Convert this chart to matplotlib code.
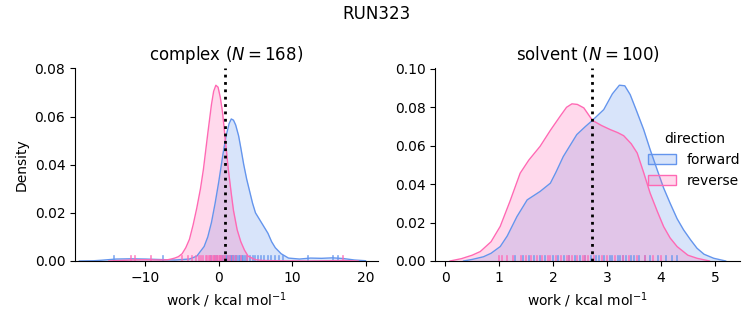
import matplotlib
matplotlib.use("Agg")
import matplotlib.pyplot as plt
from matplotlib.patches import Patch

# ---------------- data ----------------
suptitle = "RUN323"
titles = ["complex ($N = 168$)", "solvent ($N = 100$)"]
xlabel = "work / kcal mol$^{-1}$"
hue_names = ["forward", "reverse"]
colors = ["#6495ED", "#FF69B4"]

# complex panel KDE curves (x, density)
cx_fwd = [-19, -17, -16, -14, -12, -10, -8, -6, -4, -3, -2, -1.5, -1, -0.5, 0, 0.6, 1.0, 1.4, 1.7,
          2.0, 2.3, 2.7, 3.0, 3.4, 3.8, 4.2, 4.6, 5.0, 5.4, 6.0, 6.7, 7.2, 7.7, 8.5, 9.5, 11, 12.5, 14, 15.5, 17, 18.5, 20]
cd_fwd = [0, 0.0001, 0.0003, 0.0008, 0.0009, 0.0008, 0.0006, 0.0004, 0.0008, 0.002, 0.006, 0.010, 0.016, 0.024,
          0.033, 0.045, 0.052, 0.057, 0.059, 0.0585, 0.0565, 0.052, 0.047, 0.040, 0.034, 0.029, 0.024, 0.020, 0.018,
          0.015, 0.0115, 0.008, 0.0055, 0.003, 0.0012, 0.0008, 0.0012, 0.0011, 0.0013, 0.0010, 0.0004, 0.0001]
cx_rev = [-15, -12, -10, -8, -7, -6.5, -6, -5.5, -5, -4.5, -4, -3.5, -3, -2.5, -2.1, -1.5, -1, -0.7, -0.4, -0.1,
          0.2, 0.5, 0.9, 1.3, 1.7, 2.0, 2.5, 3.0, 3.5, 4.0, 5.0, 6.0, 8.0, 12, 15, 17, 19]
cd_rev = [0, 0.0004, 0.0005, 0.0004, 0.0005, 0.0008, 0.0012, 0.0018, 0.003, 0.0055, 0.009, 0.015, 0.022, 0.030,
          0.038, 0.053, 0.065, 0.0705, 0.073, 0.0722, 0.068, 0.062, 0.050, 0.038, 0.028, 0.021, 0.013, 0.008,
          0.0045, 0.002, 0.0005, 0.0002, 0.0001, 0, 0.0001, 0.0002, 0]

# solvent panel KDE curves (x, density)
sx_fwd = [0.34, 0.5, 0.71, 0.85, 1.02, 1.15, 1.33, 1.52, 1.76, 1.95, 2.05, 2.19, 2.44, 2.6, 2.73, 2.94,
          3.1, 3.23, 3.33, 3.43, 3.55, 3.68, 3.8, 3.93, 4.05, 4.17, 4.3, 4.42, 4.55, 4.67, 4.8, 4.98, 5.2]
sd_fwd = [0, 0.0008, 0.0022, 0.004, 0.0075, 0.013, 0.0231, 0.0318, 0.0362, 0.0405, 0.046, 0.0544, 0.0658,
          0.070, 0.0732, 0.0788, 0.087, 0.0915, 0.0912, 0.0866, 0.078, 0.0684, 0.058, 0.0475, 0.038, 0.0301,
          0.022, 0.0162, 0.011, 0.0066, 0.0035, 0.0014, 0]
sx_rev = [0.09, 0.3, 0.5, 0.65, 0.85, 1.02, 1.2, 1.39, 1.55, 1.76, 1.95, 2.13, 2.25, 2.35, 2.45, 2.57,
          2.73, 2.9, 3.06, 3.2, 3.31, 3.45, 3.56, 3.68, 3.8, 3.93, 4.05, 4.17, 4.3, 4.5, 4.67, 4.9]
sd_rev = [0, 0.0012, 0.003, 0.0049, 0.010, 0.018, 0.031, 0.0457, 0.0525, 0.0597, 0.068, 0.0753, 0.080,
          0.0818, 0.0815, 0.0797, 0.0732, 0.0705, 0.0684, 0.0668, 0.0652, 0.061, 0.0562, 0.046, 0.0353,
          0.026, 0.0179, 0.012, 0.0075, 0.003, 0.0014, 0]

# rug samples
rug_c_fwd = [-14.3, -7.6, -1.0, -0.5, -0.2, 0.1, 0.4, 0.6, 0.8, 1.0, 1.1, 1.3, 1.5, 1.6, 1.8, 1.9, 2.0,
             2.2, 2.3, 2.5, 2.7, 2.9, 3.1, 3.3, 3.6, 3.9, 4.2, 4.6, 5.0, 5.4, 5.8, 6.2, 6.7, 7.1, 7.6, 8.2,
             8.8, 12.2, 15.6, 16.3]
rug_c_rev = [-12.0, -11.4, -9.3, -5.0, -4.2, -3.6, -3.1, -2.7, -2.4, -2.1, -1.8, -1.6, -1.4, -1.2, -1.0,
             -0.8, -0.6, -0.5, -0.3, -0.2, 0.0, 0.2, 0.3, 0.5, 0.7, 0.9, 1.2, 1.5, 1.9, 2.4, 3.0, 3.8, 16.9]
rug_s_fwd = [1.3, 1.45, 1.55, 1.65, 1.75, 1.85, 2.0, 2.1, 2.2, 2.3, 2.4, 2.5, 2.6, 2.7, 2.8, 2.85, 2.95,
             3.05, 3.1, 3.2, 3.25, 3.3, 3.35, 3.45, 3.5, 3.6, 3.7, 3.8, 3.95, 4.1, 4.2, 4.3]
rug_s_rev = [1.0, 1.05, 1.15, 1.25, 1.4, 1.5, 1.6, 1.7, 1.8, 1.9, 1.95, 2.05, 2.15, 2.25, 2.3, 2.35,
             2.45, 2.55, 2.6, 2.65, 2.75, 2.9, 3.0, 3.15, 3.3, 3.4, 3.55, 3.7, 3.85, 4.0]

# vertical reference lines
vline_x = [0.8, 2.73]

xlims = [(-19.6, 21.7), (-0.185, 5.47)]
ylims = [(0, 0.0802), (0, 0.1005)]
xticks = [[-10, 0, 10, 20], [0, 1, 2, 3, 4, 5]]
yticks = [[0, 0.02, 0.04, 0.06, 0.08], [0, 0.02, 0.04, 0.06, 0.08, 0.10]]

# ---------------- plotting ----------------
fig = plt.figure(figsize=(7.53, 3.25), dpi=100)
axes = [fig.add_axes([0.0996, 0.197, 0.4024, 0.594]),
        fig.add_axes([0.578, 0.197, 0.405, 0.594])]

curves = [[(cx_fwd, cd_fwd), (cx_rev, cd_rev)], [(sx_fwd, sd_fwd), (sx_rev, sd_rev)]]
rugs = [[rug_c_fwd, rug_c_rev], [rug_s_fwd, rug_s_rev]]

for i, ax in enumerate(axes):
    for j in range(2):
        x, d = curves[i][j]
        ax.fill_between(x, d, 0, color=colors[j], alpha=0.25, lw=0)
        ax.plot(x, d, color=colors[j], lw=1)
        for r in rugs[i][j]:
            ax.axvline(r, ymin=0, ymax=0.025, color=colors[j], lw=1.2, alpha=0.8)
    ax.axvline(vline_x[i], color="black", ls=":", lw=2)
    ax.set_xlim(*xlims[i])
    ax.set_ylim(*ylims[i])
    ax.set_xticks(xticks[i])
    ax.set_yticks(yticks[i])
    ax.set_title(titles[i], fontsize=12)
    ax.set_xlabel(xlabel, fontsize=10)
    ax.spines["top"].set_visible(False)
    ax.spines["right"].set_visible(False)
    ax.tick_params(labelsize=10)

axes[0].set_ylabel("Density", fontsize=10)
fig.suptitle(suptitle, fontsize=12, y=0.985)

handles = [Patch(facecolor=matplotlib.colors.to_rgba(c, 0.25), edgecolor=c, lw=1) for c in colors]
fig.legend(handles, hue_names, title="direction", loc="center left",
           bbox_to_anchor=(0.844, 0.508), frameon=False, fontsize=10, title_fontsize=10)

fig.savefig("out.png", dpi=100)
